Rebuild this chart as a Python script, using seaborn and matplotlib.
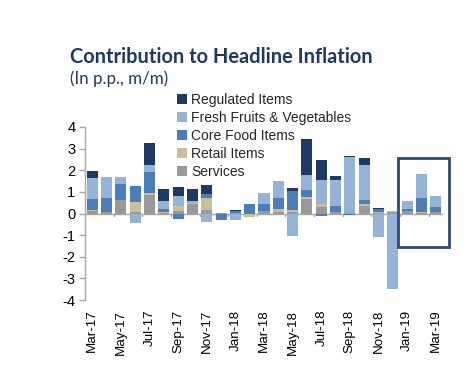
import matplotlib
matplotlib.use("Agg")
import matplotlib.pyplot as plt
import seaborn as sns
import numpy as np
import pandas as pd
from matplotlib.patches import Patch, Rectangle

months = ["Mar-17", "Apr-17", "May-17", "Jun-17", "Jul-17", "Aug-17", "Sep-17", "Oct-17",
          "Nov-17", "Dec-17", "Jan-18", "Feb-18", "Mar-18", "Apr-18", "May-18", "Jun-18",
          "Jul-18", "Aug-18", "Sep-18", "Oct-18", "Nov-18", "Dec-18", "Jan-19", "Feb-19", "Mar-19"]
tick_labels = ["Mar-17", "May-17", "Jul-17", "Sep-17", "Nov-17", "Jan-18", "Mar-18",
               "May-18", "Jul-18", "Sep-18", "Nov-18", "Jan-19", "Mar-19"]

services = [0.12, 0.05, 0.63, 0.05, 0.86, 0.02, 0.10, 0.45, 0.18, 0.02, 0.02, 0.00, 0.10,
            0.08, 0.09, 0.65, 0.31, 0.08, 0.02, 0.34, 0.02, 0.05, 0.10, 0.03, 0.06]
retail = [0.02, 0.00, 0.00, 0.47, 0.09, 0.04, 0.24, 0.02, 0.54, 0.00, 0.00, -0.15, 0.00,
          0.15, 0.05, 0.12, 0.15, 0.00, 0.00, 0.08, 0.05, 0.05, 0.01, 0.02, 0.00]
core_food = [0.54, 0.65, 0.75, 0.74, 0.99, 0.16, -0.27, 0.00, 0.16, -0.28, 0.08, 0.42, 0.35,
             0.49, 0.89, 0.33, -0.10, 0.27, -0.08, 0.20, 0.12, 0.00, 0.12, 0.66, 0.23]
fresh = [0.98, 0.97, 0.31, -0.43, 0.28, 0.38, 0.47, 0.12, -0.40, 0.00, -0.28, 0.00, 0.52,
         0.77, -1.05, 0.70, 1.11, 1.22, 2.58, 1.60, -1.08, -3.50, 0.36, 1.11, 0.51]
regulated = [0.30, 0.00, 0.00, 0.00, 1.03, 0.51, 0.42, 0.52, 0.45, 0.00, 0.08, 0.00, 0.00,
             0.00, 0.15, 1.65, 0.92, 0.18, 0.04, 0.35, 0.07, 0.00, 0.00, 0.00, 0.00]

series_names = ["Services", "Retail Items", "Core Food Items", "Fresh Fruits & Vegetables", "Regulated Items"]
series_vals = [services, retail, core_food, fresh, regulated]
colors = ["#999999", "#c9bf96", "#4a7ebb", "#95b3d7", "#1f3864"]

sns.set_theme(style="white")
plt.rcParams["font.family"] = ["Liberation Sans", "DejaVu Sans"]

fig = plt.figure(figsize=(4.74, 3.65), dpi=100)
ax = fig.add_axes([85 / 474, 1 - 300 / 365, (443 - 85) / 474, (300 - 127) / 365])

n = len(months)
pos_base = np.zeros(n)
neg_base = np.zeros(n)
for name, vals, col in zip(series_names, series_vals, colors):
    v = np.array(vals, dtype=float)
    bottoms = np.where(v >= 0, pos_base, neg_base)
    df = pd.DataFrame({"idx": np.arange(n), "val": v})
    sns.barplot(data=df, x="idx", y="val", bottom=bottoms, color=col, saturation=1,
                width=0.77, linewidth=0, ax=ax, errorbar=None, native_scale=True)
    pos_base = pos_base + np.where(v > 0, v, 0)
    neg_base = neg_base + np.where(v < 0, v, 0)

ax.set_xlim(-0.5, n - 0.5)
ax.set_ylim(-4, 4)
ax.set_xlabel("")
ax.set_ylabel("")

# zero line with ticks
ax.axhline(0, color="#a6a6a6", lw=1.0, zorder=0.5)
for t in np.arange(1.5, n - 1, 2):
    ax.plot([t, t], [0, -0.12], color="#a6a6a6", lw=1.0, zorder=0.5)

ax.set_xticks(np.arange(0, n, 2))
ax.set_xticklabels(tick_labels, rotation=90, fontsize=9.6, color="#000000")
ax.tick_params(axis="x", length=0, pad=7)

ax.set_yticks(range(-4, 5))
ax.set_yticklabels([str(i) for i in range(-4, 5)], fontsize=10.5, color="#000000")
ax.tick_params(axis="y", length=4, width=1, color="#a6a6a6", direction="out", left=True, pad=3)

for s in ["top", "right", "bottom"]:
    ax.spines[s].set_visible(False)
ax.spines["left"].set_color("#a6a6a6")
ax.spines["left"].set_linewidth(1.0)

# highlight rectangle
ax.add_patch(Rectangle((21.35, -1.57), 3.55, 4.15, fill=False, edgecolor="#2e4a7a",
                       lw=2, clip_on=False, zorder=5))

handles = [Patch(facecolor=c, edgecolor="none") for c in colors[::-1]]
leg = fig.legend(handles, series_names[::-1], loc="upper left", bbox_to_anchor=(177 / 474, 1 - 93 / 365),
                 frameon=False, fontsize=10, handlelength=0.7, handleheight=0.7, handletextpad=0.3,
                 labelspacing=0.29, borderaxespad=0, borderpad=0)

fig.text(70 / 474, 1 - 63 / 365, "Contribution to Headline Inflation", fontsize=14.4,
         fontweight="bold", color="#1f3864", family=["Lato", "DejaVu Sans"], ha="left", va="baseline")
fig.text(70 / 474, 1 - 84 / 365, "(In p.p., m/m)", fontsize=12.2, color="#1f3864",
         family=["Lato", "DejaVu Sans"], ha="left", va="baseline")

fig.savefig("out.png", dpi=100)
